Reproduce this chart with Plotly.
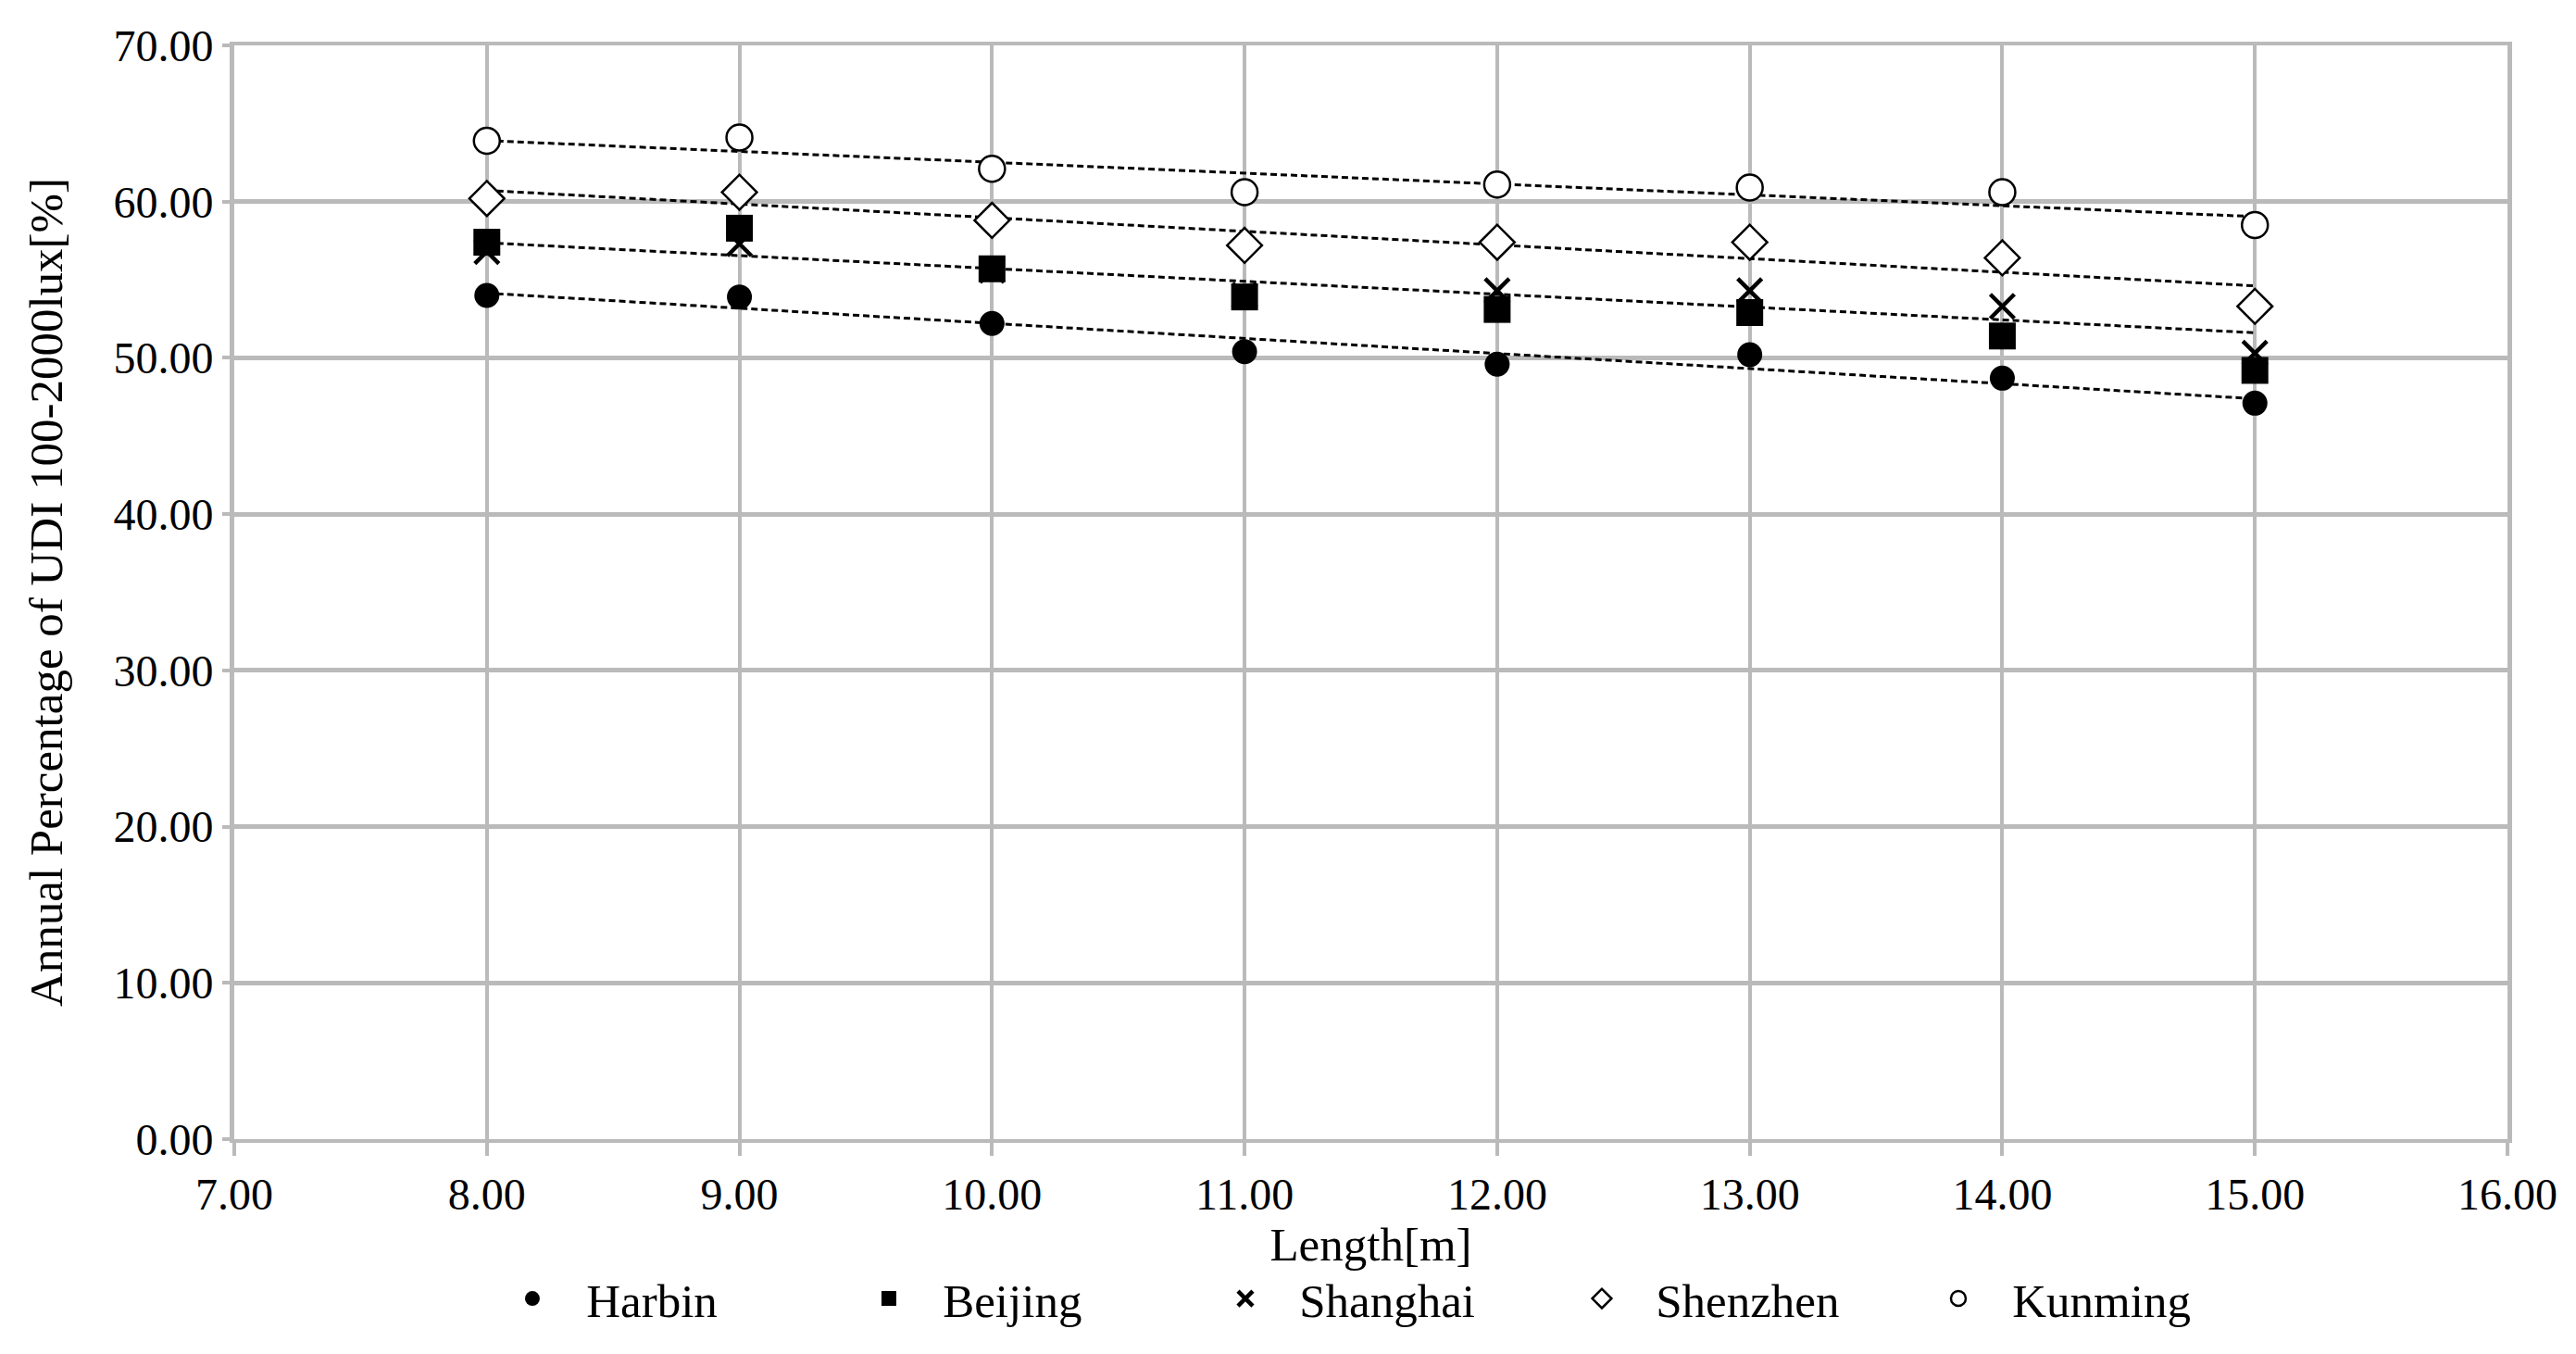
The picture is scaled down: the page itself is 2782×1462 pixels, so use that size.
import numpy as np
import plotly.graph_objects as go

lengths = [8, 9, 10, 11, 12, 13, 14, 15]
harbin = [54.0, 53.9, 52.2, 50.4, 49.6, 50.2, 48.7, 47.1]
beijing = [57.4, 58.3, 55.7, 53.9, 53.1, 52.9, 51.4, 49.2]
shanghai = [56.8, 57.3, 55.6, 54.0, 54.3, 54.3, 53.3, 50.3]
shenzhen = [60.2, 60.6, 58.8, 57.2, 57.4, 57.4, 56.4, 53.3]
kunming = [63.9, 64.1, 62.1, 60.6, 61.1, 60.9, 60.6, 58.5]

x_ticks = [7, 8, 9, 10, 11, 12, 13, 14, 15, 16]
y_ticks = [0, 10, 20, 30, 40, 50, 60, 70]

FONT = "Liberation Serif"
GRID = "#bababa"

fig = go.Figure()

# linear trendlines (computed from the data)
xs = np.array(lengths, dtype=float)
for vals in [harbin, shanghai, shenzhen, kunming]:
    k, b = np.polyfit(xs, np.array(vals), 1)
    xe = np.array([xs.min(), xs.max()])
    fig.add_trace(go.Scatter(x=xe, y=k * xe + b, mode="lines",
                             line=dict(color="black", width=3, dash="7px,4px"),
                             showlegend=False, hoverinfo="skip"))

NB = "\u00a0\u00a0\u00a0"
series = [
    ("Harbin", harbin, dict(symbol="circle", size=27, color="black")),
    ("Shanghai", shanghai, dict(symbol="x-thin-open", size=26, color="black",
                                line=dict(color="black", width=4.5))),
    ("Beijing", beijing, dict(symbol="square", size=29, color="black")),
    ("Shenzhen", shenzhen, dict(symbol="diamond", size=29, color="white",
                                line=dict(color="black", width=2.5))),
    ("Kunming", kunming, dict(symbol="circle", size=28, color="white",
                              line=dict(color="black", width=2.5))),
]
rank = {"Harbin": 1, "Beijing": 2, "Shanghai": 3, "Shenzhen": 4, "Kunming": 5}
for name, vals, mk in series:
    fig.add_trace(go.Scatter(x=lengths, y=vals, mode="markers", name=NB + name,
                             marker=mk, legendrank=rank[name]))

fig.update_layout(
    width=2766, height=1446,
    margin=dict(l=245, r=63, t=41, b=211),
    plot_bgcolor="white", paper_bgcolor="white",
    font=dict(family=FONT, size=48, color="black"),
    legend=dict(orientation="h", x=0.123, xanchor="left", y=-0.146, yanchor="middle",
                font=dict(family=FONT, size=51, color="black"),
                entrywidth=340, entrywidthmode="pixels", itemwidth=30,
                bgcolor="rgba(0,0,0,0)"),
    showlegend=True,
)
fig.update_xaxes(range=[7, 16], tickvals=x_ticks, tickformat=".2f",
                 showgrid=True, gridcolor=GRID, gridwidth=4,
                 showline=True, linecolor=GRID, linewidth=4, mirror=True,
                 ticks="outside", ticklen=14, tickwidth=4, tickcolor=GRID,
                 zeroline=False,
                 tickfont=dict(family=FONT, size=48, color="black"),
                 title=dict(text="Length[m]", font=dict(family=FONT, size=51, color="black"),
                            standoff=2))
fig.update_yaxes(range=[0, 70], tickvals=y_ticks, tickformat=".2f",
                 showgrid=True, gridcolor=GRID, gridwidth=5,
                 showline=True, linecolor=GRID, linewidth=5, mirror=True,
                 ticks="outside", ticklen=8, tickwidth=4, tickcolor=GRID,
                 zeroline=False,
                 tickfont=dict(family=FONT, size=48, color="black"),
                 title=dict(text="Annual Percentage of UDI 100-2000lux[%]",
                            font=dict(family=FONT, size=51, color="black"),
                            standoff=40))

fig.write_html("out.html")
